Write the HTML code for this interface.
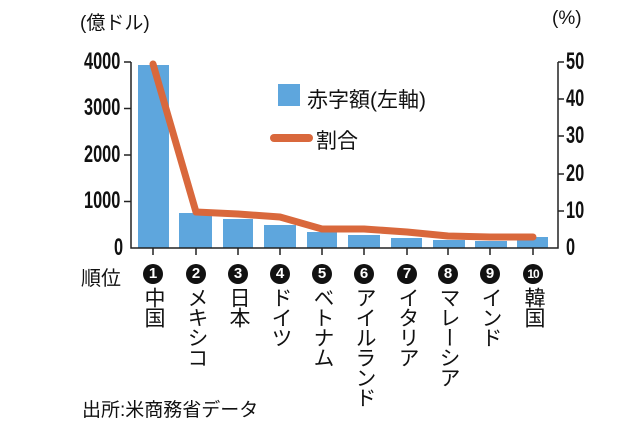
<!DOCTYPE html>
<html><head><meta charset="utf-8"><style>
body{margin:0;background:#fff;width:644px;height:421px;overflow:hidden;position:relative;font-family:"Liberation Sans","Noto Sans CJK JP",sans-serif;color:#111}
.t{position:absolute;white-space:nowrap}
.num{font-family:"Liberation Sans Narrow","Liberation Sans",sans-serif;font-weight:bold;font-size:24px;transform:scaleX(0.68);transform-origin:left center}
.v{position:absolute;top:287px;writing-mode:vertical-rl;font-size:21px;line-height:22px;width:22px;letter-spacing:-1px}
.c{position:absolute;top:264px;width:20px;height:20px;border-radius:50%;background:#111;color:#fff;font-weight:bold;font-size:15px;line-height:20px;text-align:center}
</style></head><body>
<svg width="644" height="421" style="position:absolute;left:0;top:0">
<g fill="#5ea6dd">
<rect x="138" y="65" width="31" height="183"/>
<rect x="179" y="213" width="33" height="35"/>
<rect x="223" y="219" width="30" height="29"/>
<rect x="264" y="225" width="32" height="23"/>
<rect x="307" y="232" width="30" height="16"/>
<rect x="348" y="235" width="32" height="13"/>
<rect x="391" y="238" width="31" height="10"/>
<rect x="433" y="240" width="32" height="8"/>
<rect x="475" y="241" width="32" height="7"/>
<rect x="517" y="237" width="31" height="11"/>
</g>
<g stroke="#222" stroke-width="1.5" fill="none">
<path d="M131 62V248H558V62"/>
<path d="M124 62H131M124 108.5H131M124 155H131M124 201.5H131"/>
<path d="M558 62H564M558 99H564M558 136H564M558 174H564M558 211H564"/>
<path d="M153 248V255M196 248V255M238 248V255M280 248V255M322 248V255M364 248V255M407 248V255M448 248V255M490 248V255M533 248V255"/>
</g>
<polyline points="153,64 196,212 238,214 280,217 322,229 364,229 407,232 448,236 490,237 533,237" fill="none" stroke="#d9683c" stroke-width="7" stroke-linejoin="round" stroke-linecap="round"/>
<rect x="278" y="84" width="22" height="22" fill="#5ea6dd"/>
<line x1="274" y1="138" x2="309" y2="138" stroke="#d9683c" stroke-width="8" stroke-linecap="round"/>
</svg>
<div class="t" style="left:80px;top:8px;font-size:19px">(億ドル)</div>
<div class="t" style="left:552px;top:8px;font-size:19px">(%)</div>
<div class="t num" style="left:84px;top:48px">4000</div>
<div class="t num" style="left:84px;top:94px">3000</div>
<div class="t num" style="left:84px;top:141px">2000</div>
<div class="t num" style="left:84px;top:187px">1000</div>
<div class="t num" style="left:114px;top:234px">0</div>
<div class="t num" style="left:566px;top:48px">50</div>
<div class="t num" style="left:566px;top:85px">40</div>
<div class="t num" style="left:566px;top:122px">30</div>
<div class="t num" style="left:566px;top:160px">20</div>
<div class="t num" style="left:566px;top:197px">10</div>
<div class="t num" style="left:566px;top:234px">0</div>
<div class="t" style="left:307px;top:84px;font-size:21px">赤字額(左軸)</div>
<div class="t" style="left:316px;top:125px;font-size:21px">割合</div>
<div class="t" style="left:81px;top:262px;font-size:20px">順位</div>
<div class="c" style="left:143px">1</div>
<div class="c" style="left:186px">2</div>
<div class="c" style="left:228px">3</div>
<div class="c" style="left:270px">4</div>
<div class="c" style="left:312px">5</div>
<div class="c" style="left:354px">6</div>
<div class="c" style="left:397px">7</div>
<div class="c" style="left:438px">8</div>
<div class="c" style="left:480px">9</div>
<div class="c" style="left:523px;font-size:12px;letter-spacing:-1px">10</div>
<div class="v" style="left:142px">中国</div>
<div class="v" style="left:185px">メキシコ</div>
<div class="v" style="left:227px">日本</div>
<div class="v" style="left:269px">ドイツ</div>
<div class="v" style="left:311px">ベトナム</div>
<div class="v" style="left:353px">アイルランド</div>
<div class="v" style="left:396px">イタリア</div>
<div class="v" style="left:437px">マレーシア</div>
<div class="v" style="left:479px">インド</div>
<div class="v" style="left:522px">韓国</div>
<div class="t" style="left:82px;top:395px;font-size:19px">出所:米商務省データ</div>
</body></html>
